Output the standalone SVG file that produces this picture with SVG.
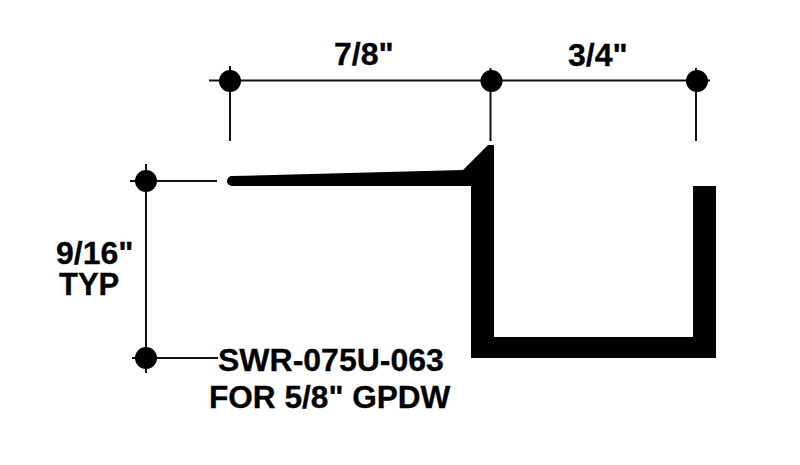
<svg xmlns="http://www.w3.org/2000/svg" width="800" height="465" viewBox="0 0 800 465">
<style>
.dim{stroke:#111;stroke-width:2;fill:none}
.dot{fill:#000}
.lbl{font-family:"Liberation Sans",Arial,sans-serif;font-weight:bold;font-size:32px;fill:#000;stroke:#000;stroke-width:.3}
</style>
<rect width="800" height="465" fill="#fff"/>
<g id="connectors">
<path class="dim" d="M209 80.500H710M230 66V141M490.500 68V141M696 68V141M130 181H217M146 164V373M132 358H218"/>
</g>
<g id="profile"><path fill="#000" d="M232 176L463 170L488 145H494V337H693V186H716V358H471V186L232 186A5 5 0 0 1 232 176Z"/></g>
<g id="dot-1"><circle class="dot" cx="230" cy="81" r="11"/></g>
<g id="dot-2"><circle class="dot" cx="491.500" cy="81" r="11"/></g>
<g id="dot-3"><circle class="dot" cx="697" cy="81" r="11"/></g>
<g id="dot-4"><circle class="dot" cx="146" cy="181" r="11"/></g>
<g id="dot-5"><circle class="dot" cx="146" cy="358" r="11"/></g>
<g id="label-7-8"><text class="lbl" x="334" y="65">7/8"</text></g>
<g id="label-3-4"><text class="lbl" x="568" y="66">3/4"</text></g>
<g id="label-9-16"><text class="lbl"><tspan x="56" y="264">9/16"</tspan><tspan x="59" y="295" font-size="31">TYP</tspan></text></g>
<g id="label-part"><text class="lbl"><tspan x="218" y="371">SWR-075U-063</tspan><tspan x="209" y="408" font-size="31.600">FOR 5/8" GPDW</tspan></text></g>
</svg>
